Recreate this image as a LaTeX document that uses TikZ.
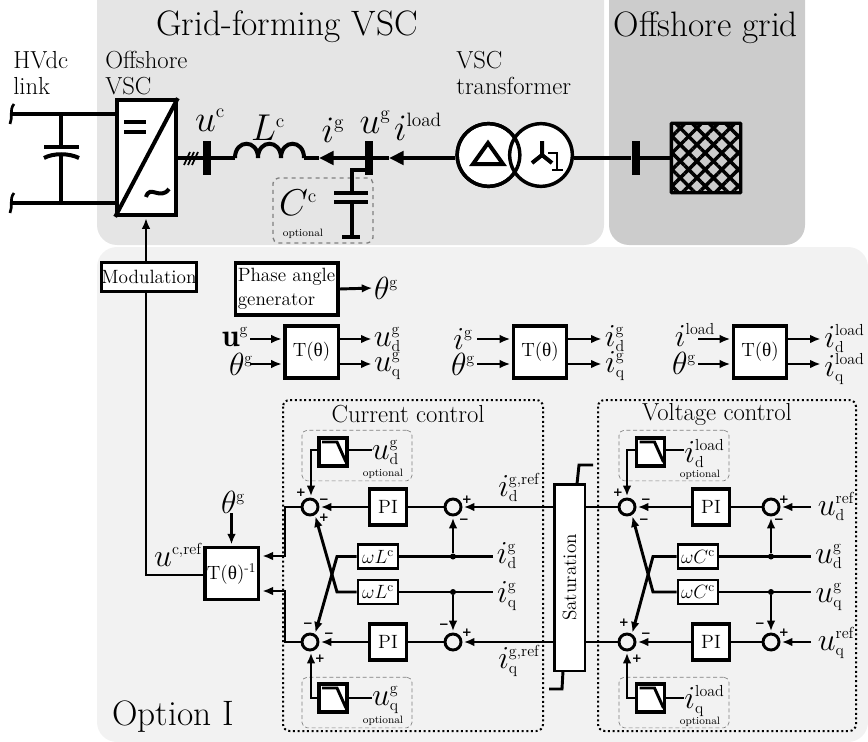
\documentclass[tikz,border=0pt]{standalone}
\usepackage{fix-cm}
\usepackage{amsmath}
\usepackage{fontspec}
\usetikzlibrary{arrows.meta, patterns.meta}
\newfontfamily\thetafont{Liberation Serif}
\newfontfamily\signfont{DejaVu Sans}
\DeclareMathSizes{24}{24}{12}{8}
\DeclareMathSizes{28}{28}{14.5}{10}
\newcommand{\Ttheta}{T({\thetafont θ})}
\newcommand{\dqlabel}[3]{$#1^{\smash{\raisebox{0pt}{$\scriptstyle\mathrm{#3}$}}}_{\smash{\raisebox{1.5pt}{$\scriptstyle\mathrm{#2}$}}}$}
\newcommand{\lpficon}[1]{\draw[ctrl] ([shift={(-11,-10)}]#1.center) -- ([shift={(4,-10)}]#1.center) -- ([shift={(13,10)}]#1.center);}

\definecolor{panelvsc}{HTML}{E5E5E5}
\definecolor{panelgrid}{HTML}{CCCCCC}
\definecolor{panelctrl}{HTML}{F2F2F2}

\tikzset{
    powerline/.style={line width=3pt},
    ctrl/.style={line width=2.2pt},
    ctrlarrow/.style={line width=2.2pt, -{Latex[length=8pt,width=6.5pt]}, shorten >=1pt},
    maintip/.style={-{Triangle[length=11pt,width=10pt]}},
    busbar/.style={fill=black, inner sep=0pt, minimum width=6pt, minimum height=26pt},
    blockbox/.style={draw, fill=white, line width=2.5pt, inner sep=0pt, font=\Large},
    lpfbox/.style={blockbox, minimum width=21pt, minimum height=21pt},
    pibox/.style={blockbox, minimum width=28pt, minimum height=27pt},
    wbox/.style={blockbox, line width=2pt, minimum width=30pt, minimum height=18pt},
    tbox/.style={blockbox, minimum width=40pt, minimum height=39pt},
    sumnode/.style={draw, circle, line width=2.2pt, inner sep=0pt, minimum size=12pt},
    dotnode/.style={fill=black, circle, inner sep=0pt, minimum size=4.5pt},
    sign/.style={font=\signfont\bfseries\fontsize{9}{9}\selectfont, inner sep=0pt},
    biglabel/.style={font=\fontsize{26.5}{32}\selectfont, inner sep=0pt},
    midlabel/.style={font=\fontsize{18.5}{22}\selectfont, inner sep=0pt},
    txtlabel/.style={inner sep=0pt, align=left, anchor=west, font=\fontsize{18.5}{19}\selectfont},
    toplabel/.style={font=\fontsize{28}{30}\selectfont, inner sep=0pt},
    mathlabel/.style={font=\fontsize{24}{25}\selectfont, inner sep=0pt},
    dqnode/.style={mathlabel, anchor=base},
    optlabel/.style={font=\footnotesize, inner sep=0pt},
    trafo/.style={draw, circle, fill=white, line width=2.6pt, inner sep=0pt, minimum size=47pt},
    ctrlframe/.style={line width=1.5pt, dotted, rounded corners=5pt},
    optframe/.style={draw=gray, line width=0.5pt, densely dashed, rounded corners=4pt},
}

\begin{document}
\begin{tikzpicture}[x=0.75pt, y=-0.75pt]
    \useasboundingbox (0,0) rectangle (868,742);

    % Panels
    \fill[panelvsc, rounded corners=15pt] (97,-20) rectangle (604,245);
    \fill[panelgrid, rounded corners=15pt] (609,-20) rectangle (805,245);
    \fill[panelctrl, rounded corners=15pt] (97,247) rectangle (868,742);

    \node[biglabel] (titleVsc) at (287,27) {Grid-forming VSC};
    \node[biglabel] (titleGrid) at (706,28) {Offshore grid};
    \node[biglabel] (titleOption) at (173,717) {Option I};

    \node[txtlabel] (lblHvdc) at (13,73) {HVdc\\link};
    \node[txtlabel] (lblConv) at (105,73) {Offshore\\VSC};
    \node[txtlabel] (lblTrafo) at (456,73) {VSC\\transformer};

    % DC side
    \node[draw, fill=white, line width=3pt, minimum width=44pt, minimum height=86pt, inner sep=0pt] (conv) at (146.5,157.5) {};
    \coordinate (dcTop) at (12,114);
    \coordinate (dcBot) at (12,203);
    \coordinate (capTop) at (61,114);
    \coordinate (capBot) at (61,203);
    \draw[powerline] (dcTop) -- (dcTop -| conv.west);
    \draw[powerline] (dcBot) -- (dcBot -| conv.west);
    \draw[line width=2pt] (14,104) .. controls (9,110) and (13,118) .. (10,124);
    \draw[line width=2pt] (14,193) .. controls (9,199) and (13,207) .. (10,213);
    \draw[powerline] (capTop) -- (61,147);
    \draw[powerline] (capBot) -- (61,155);
    \draw[powerline] (44,147) -- (79,147);
    \draw[powerline] (44,158) .. controls (53,153) and (69,153) .. (79,158);

    % Converter symbol
    \draw[powerline] (conv.north east) -- (conv.south west);
    \draw[powerline] (124,122) -- (146,122);
    \draw[powerline] (124,132) -- (146,132);
    \draw[powerline] (146,197) .. controls (150,184) and (160,201) .. (169,189);

    % AC side
    \node[busbar] (busUc) at (207,158) {};
    \node[busbar] (busUg) at (369,158) {};
    \node[busbar] (busGrid) at (635.5,158) {};
    \coordinate (lStart) at (235,158);
    \coordinate (lEnd) at (304,158);
    \coordinate (igTip) at (319,158);
    \coordinate (iloadTip) at (389,158);
    \draw[powerline] (conv.east |- lStart) -- (lStart);
    \draw[powerline] (lStart) .. controls (235,139) and (258,139) .. (258,158)
        .. controls (258,139) and (281,139) .. (281,158)
        .. controls (281,139) and (304,139) .. (lEnd);
    \draw[line width=1.3pt] (184,165) -- (190,152);
    \draw[line width=1.3pt] (188,165) -- (194,152);
    \draw[line width=1.3pt] (192,165) -- (198,152);

    \node[trafo] (trafoL) at (488.5,155) {};
    \node[trafo] (trafoR) at (541,155) {};
    \node[trafo, fill=none] (trafoRing) at (488.5,155) {};
    \draw[powerline, maintip] (busUg) -- (igTip);
    \draw[powerline] (igTip) -- (lEnd);
    \draw[powerline, maintip] (trafoL.west |- iloadTip) -- (iloadTip);
    \draw[powerline] (iloadTip) -- (busUg);
    \draw[powerline] (trafoR.east |- busGrid) -- (busGrid);

    % Transformer windings
    \draw[powerline, line join=miter] (488,143) -- (473,164) -- (503,164) -- cycle;
    \draw[powerline] (542,141) -- (542,155) -- (532,163);
    \draw[powerline] (542,155) -- (552,163);
    \draw[line width=1pt] (548,153) -- (557,153) -- (557,170);
    \draw[line width=1pt] (552,170) -- (563,170);

    % Optional filter capacitor
    \node[optframe, draw=gray, line width=1pt, dashed, minimum width=75pt, minimum height=48.7pt] (optCap) at (323,210.5) {};
    \coordinate (capKnee) at (352,170);
    \coordinate (capPlateA) at (352,193);
    \coordinate (capPlateB) at (352,202);
    \coordinate (capEarth) at (352,237);
    \draw[line width=2.5pt] (busUg.center |- capKnee) -- (capKnee) -- (capPlateA);
    \draw[powerline] (334,193) -- (368,193);
    \draw[powerline] (334,202) -- (368,202);
    \draw[line width=2.5pt] (capPlateB) -- (capEarth);
    \draw[powerline] (342,237) -- (360,237);
    \node[toplabel] (lblCc) at (298,203) {$C^{\mathrm{c}}$};
    \node[optlabel] (optCapText) at (303,234) {optional};

    % Grid equivalent
    \node[draw, line width=2.5pt, minimum size=52pt, inner sep=0pt, pattern={Hatch[angle=45,distance=8.8pt,line width=2.6pt]}, rounded corners=0.5pt] (gridBox) at (706,158) {};
    \draw[powerline] (busGrid) -- (gridBox.west);

    \node[toplabel] (lblUc) at (210,120) {$u^{\mathrm{c}}$};
    \node[toplabel] (lblLc) at (268,128) {$L^{\mathrm{c}}$};
    \node[toplabel] (lblIg) at (333,130) {$i^{\mathrm{g}}$};
    \node[toplabel] (lblUg) at (375,122) {$u^{\mathrm{g}}$};
    \node[toplabel] (lblIload) at (418,127) {$i^{\mathrm{load}}$};

    % Modulation and angle
    \node[blockbox, minimum width=70pt, minimum height=22pt] (modul) at (149,277) {Modulation};
    \node[blockbox, minimum width=77pt, minimum height=39pt, align=left] (phase) at (286.5,289) {Phase angle\\generator};
    \node[tbox] (tinv) at (231.5,573.5) {\Ttheta$^{\text{-1}}$};
    \coordinate (modKnee) at (146,575);
    \draw[ctrlarrow] (modul.north -| modKnee) -- (conv.south -| modKnee);
    \draw[ctrl] (tinv.west |- modKnee) -- (modKnee) -- (modul.south -| modKnee);
    \node[mathlabel] (thetaOut) at (386,288) {$\theta^{\mathrm{g}}$};
    \draw[ctrlarrow] (phase.east) -- (thetaOut.west);

    % Park transforms
    \node[tbox] (tUg) at (311.5,352) {\Ttheta};
    \node[tbox] (tIg) at (540,352) {\Ttheta};
    \node[tbox] (tIl) at (760,352) {\Ttheta};

    \node[mathlabel] (inU) at (235,337) {$\mathbf{u}^{\mathrm{g}}$};
    \node[mathlabel] (inTa) at (241,364) {$\theta^{\mathrm{g}}$};
    \node[dqnode] (outUd) at (387.5,346) {\dqlabel{u}{d}{g}};
    \node[dqnode] (outUq) at (387.5,371) {\dqlabel{u}{q}{g}};
    \draw[ctrlarrow] (250,339) -- (tUg.west |- 0,339);
    \draw[ctrlarrow] (250,364) -- (tUg.west |- 0,364);
    \draw[ctrlarrow] (tUg.east |- 0,339) -- (373,339);
    \draw[ctrlarrow] (tUg.east |- 0,364) -- (373,364);

    \node[mathlabel] (inI) at (463,339) {$i^{\mathrm{g}}$};
    \node[mathlabel] (inTb) at (463,364) {$\theta^{\mathrm{g}}$};
    \node[dqnode] (outId) at (615,346) {\dqlabel{i}{d}{g}};
    \node[dqnode] (outIq) at (615,372) {\dqlabel{i}{q}{g}};
    \draw[ctrlarrow] (477,339) -- (tIg.west |- 0,339);
    \draw[ctrlarrow] (477,364) -- (tIg.west |- 0,364);
    \draw[ctrlarrow] (tIg.east |- 0,339) -- (603,339);
    \draw[ctrlarrow] (tIg.east |- 0,364) -- (603,364);

    \node[mathlabel] (inL) at (695,335) {$i^{\mathrm{load}}$};
    \node[mathlabel] (inTc) at (684,363) {$\theta^{\mathrm{g}}$};
    \node[dqnode] (outLd) at (844.5,347) {\dqlabel{i}{d}{load}};
    \node[dqnode] (outLq) at (844.5,376) {\dqlabel{i}{q}{load}};
    \draw[ctrlarrow] (698,339) -- (tIl.west |- 0,339);
    \draw[ctrlarrow] (698,364) -- (tIl.west |- 0,364);
    \draw[ctrlarrow] (tIl.east |- 0,339) -- (822,339);
    \draw[ctrlarrow] (tIl.east |- 0,364) -- (822,364);

    % Control frames
    \draw[ctrlframe] (283,400) rectangle (543,731);
    \draw[ctrlframe] (598,400) rectangle (856,731);
    \node[midlabel] (titleCc) at (408,414) {Current control};
    \node[midlabel] (titleVc) at (717,414) {Voltage control};
    \node[optframe, minimum width=82.5pt, minimum height=38pt] (optCd) at (357,455.5) {};
    \node[optframe, minimum width=82.5pt, minimum height=38pt] (optCq) at (357,702.5) {};
    \node[optframe, minimum width=82.5pt, minimum height=38pt] (optVd) at (674,455.5) {};
    \node[optframe, minimum width=82.5pt, minimum height=38pt] (optVq) at (674,702.5) {};

    % Inverse transform
    \node[mathlabel] (thetaIn) at (233,502) {$\theta^{\mathrm{g}}$};
    \draw[ctrlarrow] (thetaIn.south -| tinv.north) -- (tinv.north);
    \node[mathlabel] (lblUcref) at (178,555) {$u^{\mathrm{c,ref}}$};

    % Current control
    \node[sumnode] (sumCd) at (310,507) {};
    \node[sumnode] (sumCq) at (310,642) {};
    \node[sumnode] (sumId) at (453,507) {};
    \node[sumnode] (sumIq) at (453,642) {};
    \node[pibox] (piCd) at (388,507) {PI};
    \node[pibox] (piCq) at (388,642) {PI};
    \node[wbox] (wLd) at (378,556.5) {$\omega L^{\mathrm{c}}$};
    \node[wbox] (wLq) at (378,592) {$\omega L^{\mathrm{c}}$};
    \node[lpfbox] (lpfCd) at (333,452) {};
    \node[lpfbox] (lpfCq) at (333,698) {};
    \lpficon{lpfCd}
    \lpficon{lpfCq}
    \node[dqnode] (lblCd) at (385.5,459) {\dqlabel{u}{d}{g}};
    \node[dqnode] (lblCq) at (385.5,705) {\dqlabel{u}{q}{g}};
    \node[optlabel] (optCdText) at (383,474) {optional};
    \node[optlabel] (optCqText) at (383,721) {optional};
    \coordinate (lpfCdKnee) at (311,450);
    \coordinate (lpfCqKnee) at (311,698);
    \draw[ctrl] (lpfCd.east |- lpfCdKnee) -- (lblCd.west |- lpfCdKnee);
    \draw[ctrl] (lpfCq.east) -- (lblCq.west |- lpfCq);
    \draw[ctrlarrow] (lpfCd.west |- lpfCdKnee) -- (lpfCdKnee) -- (sumCd.north -| lpfCdKnee);
    \draw[ctrlarrow] (lpfCq.west) -- (lpfCqKnee) -- (sumCq.south -| lpfCqKnee);

    \draw[ctrlarrow] (piCd.west) -- (sumCd.east);
    \draw[ctrlarrow] (piCq.west) -- (sumCq.east);
    \draw[ctrl] (piCd.east) -- (sumId.west);
    \draw[ctrl] (piCq.east) -- (sumIq.west);

    \coordinate (knotCd) at (285,556);
    \coordinate (knotCq) at (285,591);
    \coordinate (tinvCd) at (261,556);
    \coordinate (tinvCq) at (261,591);
    \draw[ctrlarrow] (sumCd.west) -| (knotCd) -- (tinvCd);
    \draw[ctrlarrow] (sumCq.west) -| (knotCq) -- (tinvCq);

    \coordinate (bendLd) at (337,556.5);
    \coordinate (bendLq) at (337,592);
    \draw[ctrlarrow] (wLd.west) -- (bendLd) -- (sumCq.58);
    \draw[ctrlarrow] (wLq.west) -- (bendLq) -- (sumCd.-58);

    \node[dotnode] (dotId) at (453,556.5) {};
    \node[dotnode] (dotIq) at (453,592) {};
    \coordinate (endId) at (493,556.5);
    \coordinate (endIq) at (493,592);
    \draw[ctrl] (wLd.east) -- (endId);
    \draw[ctrl] (wLq.east) -- (endIq);
    \draw[ctrlarrow] (dotId) -- (sumId.south);
    \draw[ctrlarrow] (dotIq) -- (sumIq.north);
    \node[dqnode] (lblId) at (507,563) {\dqlabel{i}{d}{g}};
    \node[dqnode] (lblIq) at (507,602) {\dqlabel{i}{q}{g}};

    \node[dqnode] (lblIdref) at (519,496) {\dqlabel{i}{d}{g,ref}};
    \node[dqnode] (lblIqref) at (519,668) {\dqlabel{i}{q}{g,ref}};

    % Saturation
    \node[blockbox, line width=2pt, minimum width=23pt, minimum height=140pt] (satur) at (569.5,577.5) {\rotatebox{90}{Saturation}};
    \draw[ctrlarrow] (satur.west |- sumId) -- (sumId.east);
    \draw[ctrlarrow] (satur.west |- sumIq) -- (sumIq.east);
    \coordinate (satTop) at (577,484);
    \coordinate (satTopB) at (579,465);
    \coordinate (satTopC) at (593,465);
    \coordinate (satBot) at (563,671);
    \coordinate (satBotB) at (562,689);
    \coordinate (satBotC) at (549,689);
    \draw[ctrl] (satTop) -- (satTopB) -- (satTopC);
    \draw[ctrl] (satBot) -- (satBotB) -- (satBotC);

    % Voltage control
    \node[sumnode] (sumVd) at (627,507) {};
    \node[sumnode] (sumVq) at (627,642) {};
    \node[sumnode] (sumUd) at (771,507) {};
    \node[sumnode] (sumUq) at (771,642) {};
    \node[pibox] (piVd) at (711,507) {PI};
    \node[pibox] (piVq) at (711,642) {PI};
    \node[wbox] (wCd) at (698,556.5) {$\omega C^{\mathrm{c}}$};
    \node[wbox] (wCq) at (698,592) {$\omega C^{\mathrm{c}}$};
    \node[lpfbox] (lpfVd) at (650.5,452) {};
    \node[lpfbox] (lpfVq) at (650.5,698) {};
    \lpficon{lpfVd}
    \lpficon{lpfVq}
    \node[dqnode] (lblVd) at (704.5,462) {\dqlabel{i}{d}{load}};
    \node[dqnode] (lblVq) at (704.5,708) {\dqlabel{i}{q}{load}};
    \node[optlabel] (optVdText) at (700,475) {optional};
    \node[optlabel] (optVqText) at (700,722) {optional};
    \coordinate (lpfVdKnee) at (627,450);
    \coordinate (lpfVqKnee) at (627,698);
    \coordinate (endVdl) at (684,450);
    \coordinate (endVql) at (684,698);
    \draw[ctrl] (lpfVd.east |- lpfVdKnee) -- (endVdl);
    \draw[ctrl] (lpfVq.east) -- (endVql);
    \draw[ctrlarrow] (lpfVd.west |- lpfVdKnee) -- (lpfVdKnee) -- (sumVd.north);
    \draw[ctrlarrow] (lpfVq.west) -- (lpfVqKnee) -- (sumVq.south);

    \draw[ctrl] (satur.east |- sumVd) -- (sumVd.west);
    \draw[ctrl] (satur.east |- sumVq) -- (sumVq.west);
    \draw[ctrlarrow] (piVd.west) -- (sumVd.east);
    \draw[ctrlarrow] (piVq.west) -- (sumVq.east);
    \draw[ctrl] (piVd.east) -- (sumUd.west);
    \draw[ctrl] (piVq.east) -- (sumUq.west);

    \coordinate (bendCd) at (653,556.5);
    \coordinate (bendCq) at (653,592);
    \draw[ctrlarrow] (wCd.west) -- (bendCd) -- (sumVq.58);
    \draw[ctrlarrow] (wCq.west) -- (bendCq) -- (sumVd.-58);

    \node[dotnode] (dotUd) at (771,556.5) {};
    \node[dotnode] (dotUq) at (771,592) {};
    \coordinate (endUd) at (811,556.5);
    \coordinate (endUq) at (811,592);
    \coordinate (refUd) at (811,507);
    \coordinate (refUq) at (811,642);
    \draw[ctrl] (wCd.east) -- (endUd);
    \draw[ctrl] (wCq.east) -- (endUq);
    \draw[ctrlarrow] (dotUd) -- (sumUd.south);
    \draw[ctrlarrow] (dotUq) -- (sumUq.north);
    \draw[ctrlarrow] (refUd) -- (sumUd.east);
    \draw[ctrlarrow] (refUq) -- (sumUq.east);
    \node[dqnode] (lblUdIn) at (829,563) {\dqlabel{u}{d}{g}};
    \node[dqnode] (lblUqIn) at (829,602) {\dqlabel{u}{q}{g}};
    \node[dqnode] (lblUdref) at (836,515) {\dqlabel{u}{d}{ref}};
    \node[dqnode] (lblUqref) at (836,650) {\dqlabel{u}{q}{ref}};

    % Signs
    \node[sign] (sgA) at (301,493) {+};
    \node[sign] (sgB) at (324,501) {−};
    \node[sign] (sgC) at (324,518) {+};
    \node[sign] (sgD) at (308,625) {−};
    \node[sign] (sgE) at (329,635) {−};
    \node[sign] (sgF) at (320,659) {+};
    \node[sign] (sgG) at (467,500) {+};
    \node[sign] (sgH) at (464,521) {−};
    \node[sign] (sgI) at (444,626) {−};
    \node[sign] (sgJ) at (467,633) {+};
    \node[sign] (sgK) at (618,493) {+};
    \node[sign] (sgL) at (646,501) {−};
    \node[sign] (sgM) at (644,521) {−};
    \node[sign] (sgN) at (624,623) {+};
    \node[sign] (sgO) at (646,635) {−};
    \node[sign] (sgP) at (637,659) {+};
    \node[sign] (sgQ) at (784,500) {+};
    \node[sign] (sgR) at (779,521) {−};
    \node[sign] (sgS) at (760,625) {−};
    \node[sign] (sgT) at (784,633) {+};
\end{tikzpicture}
\end{document}
